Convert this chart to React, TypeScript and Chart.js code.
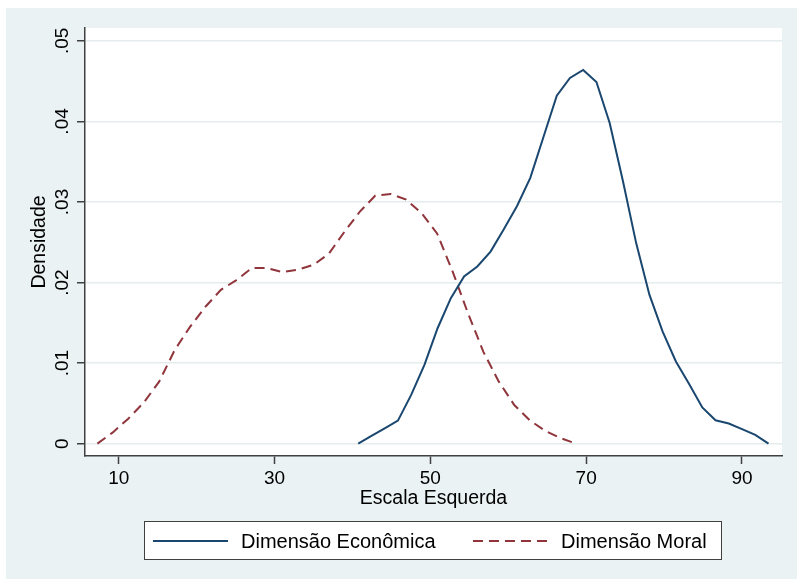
import React, { useEffect, useRef } from "react";
import { Chart, registerables } from "chart.js";

Chart.register(...registerables);

// ---- Data ----
const econX = [40.74, 42.44, 44.14, 45.84, 47.54, 49.24, 50.93, 52.63, 54.33, 56.03, 57.73, 59.43, 61.13, 62.83, 64.53, 66.23, 67.92, 69.62, 71.32, 73.02, 74.72, 76.42, 78.12, 79.82, 81.52, 83.22, 84.91, 86.61, 88.31, 90.01, 91.71, 93.41];
const econY = [0, 0.00096, 0.0019, 0.00286, 0.00605, 0.00978, 0.01433, 0.01806, 0.02075, 0.0220, 0.02385, 0.02663, 0.0295, 0.0330, 0.0381, 0.0432, 0.0454, 0.0464, 0.0449, 0.0398, 0.0326, 0.0249, 0.0185, 0.0139, 0.0102, 0.0074, 0.0045, 0.0029, 0.0025, 0.0018, 0.0011, 0];

const moralX = [7.26, 9.24, 11.22, 13.21, 15.19, 17.17, 19.15, 21.13, 23.12, 25.10, 27.08, 29.06, 31.04, 33.03, 35.01, 36.99, 38.97, 40.95, 42.94, 44.92, 46.90, 48.88, 50.86, 52.85, 54.83, 56.81, 58.79, 60.77, 62.76, 64.74, 66.72, 68.70];
const moralY = [0, 0.0014, 0.0031, 0.0051, 0.0077, 0.0116, 0.0145, 0.0170, 0.0191, 0.0203, 0.0218, 0.0218, 0.0213, 0.0216, 0.0222, 0.0236, 0.0263, 0.0288, 0.0308, 0.0310, 0.0303, 0.0286, 0.0261, 0.0214, 0.0162, 0.0114, 0.0077, 0.0048, 0.0029, 0.0016, 0.0007, 0];

const xTicks = [10, 30, 50, 70, 90];
const yTicks = [0, 0.01, 0.02, 0.03, 0.04, 0.05];
const yTickLabels = ["0", ".01", ".02", ".03", ".04", ".05"];
const seriesLabels = ["Dimensão Econômica", "Dimensão Moral"];
const xTitle = "Escala Esquerda";
const yTitle = "Densidade";

// ---- Styles ----
const FONT = '"Liberation Sans", Arial, Helvetica, sans-serif';
const BLUE = "#1a476f";
const RED = "#90353b";
const BG = "#eaf2f3";
const AXIS = "#404040";
const GRID = "#e4eced";

const bgPlugin = {
  id: "stataBg",
  beforeDraw(chart: any) {
    const { ctx, chartArea: a, width, height } = chart;
    ctx.save();
    ctx.fillStyle = "#ffffff";
    ctx.fillRect(0, 0, width, height);
    ctx.fillStyle = BG;
    ctx.fillRect(6, 8, width - 6, height - 8);
    ctx.fillStyle = "#ffffff";
    ctx.fillRect(a.left, a.top, a.right - a.left, a.bottom - a.top);
    ctx.restore();
  },
};

const legendPlugin = {
  id: "stataLegend",
  afterDraw(chart: any) {
    const { ctx } = chart;
    const ds = chart.data.datasets;
    ctx.save();
    const bx = 144.5, by = 521.5, bw = 577, bh = 38;
    ctx.fillStyle = "#ffffff";
    ctx.fillRect(bx, by, bw, bh);
    ctx.strokeStyle = AXIS;
    ctx.lineWidth = 1;
    ctx.strokeRect(bx, by, bw, bh);
    const cy = 541;
    const items = [
      { x0: 153, x1: 228, tx: 241 },
      { x0: 473, x1: 548, tx: 561 },
    ];
    items.forEach((it, i) => {
      const d = ds[i];
      ctx.beginPath();
      ctx.strokeStyle = d.borderColor;
      ctx.lineWidth = 2;
      ctx.setLineDash(d.borderDash || []);
      ctx.moveTo(it.x0, cy);
      ctx.lineTo(it.x1, cy);
      ctx.stroke();
      ctx.setLineDash([]);
      ctx.fillStyle = "#000000";
      ctx.font = `20px ${FONT}`;
      ctx.textBaseline = "middle";
      ctx.textAlign = "left";
      ctx.fillText(d.label, it.tx, cy + 1);
    });
    ctx.restore();
  },
};

export default function App() {
  const ref = useRef<HTMLCanvasElement | null>(null);

  useEffect(() => {
    if (!ref.current) return;
    const chart = new Chart(ref.current, {
      type: "scatter",
      data: {
        datasets: [
          {
            label: seriesLabels[0],
            data: econX.map((x, i) => ({ x, y: econY[i] })),
            showLine: true,
            borderColor: BLUE,
            backgroundColor: BLUE,
            borderWidth: 2,
            pointRadius: 0,
            tension: 0,
          },
          {
            label: seriesLabels[1],
            data: moralX.map((x, i) => ({ x, y: moralY[i] })),
            showLine: true,
            borderColor: RED,
            backgroundColor: RED,
            borderWidth: 2,
            borderDash: [10, 6],
            pointRadius: 0,
            tension: 0,
          },
        ],
      },
      options: {
        animation: false,
        responsive: false,
        maintainAspectRatio: false,
        layout: { padding: { left: 0, top: 28, right: 15, bottom: 63 } },
        plugins: {
          legend: { display: false },
          tooltip: { enabled: false },
        },
        scales: {
          x: {
            type: "linear",
            min: 5.67,
            max: 95.14,
            afterBuildTicks: (s: any) => {
              s.ticks = xTicks.map((v) => ({ value: v }));
            },
            afterFit: (s: any) => {
              s.height = 60;
            },
            grid: {
              drawOnChartArea: false,
              drawTicks: true,
              tickLength: 8,
              tickColor: AXIS,
              tickWidth: 1.5,
            },
            border: { display: true, color: AXIS, width: 1.5 },
            ticks: {
              color: "#000",
              font: { family: FONT, size: 19 },
              padding: 3,
              maxRotation: 0,
              autoSkip: false,
              callback: (v: any) => String(v),
            },
            title: {
              display: true,
              text: xTitle,
              color: "#000",
              font: { family: FONT, size: 19.5 },
              padding: { top: 0, bottom: 5.6 },
            },
          },
          y: {
            type: "linear",
            min: -0.00153,
            max: 0.0516,
            afterBuildTicks: (s: any) => {
              s.ticks = yTicks.map((v) => ({ value: v }));
            },
            afterFit: (s: any) => {
              s.width = 85;
            },
            grid: {
              color: GRID,
              lineWidth: 1.5,
              drawTicks: true,
              tickLength: 8,
              tickColor: AXIS,
              tickWidth: 1.5,
            },
            border: { display: true, color: AXIS, width: 1.5 },
            ticks: {
              color: "#000",
              font: { family: FONT, size: 19 },
              padding: 1.5,
              minRotation: 90,
              maxRotation: 90,
              crossAlign: "center",
              autoSkip: false,
              callback: (_v: any, i: number) => yTickLabels[i],
            },
            title: {
              display: true,
              text: yTitle,
              color: "#000",
              font: { family: FONT, size: 19.5 },
              padding: { top: 27.5, bottom: 0 },
            },
          },
        },
      } as any,
      plugins: [bgPlugin, legendPlugin],
    });
    return () => chart.destroy();
  }, []);

  return (
    <div style={{ position: "absolute", left: 0, top: 0, width: 797, height: 579 }}>
      <canvas ref={ref} width={797} height={579} style={{ width: 797, height: 579, display: "block" }} />
    </div>
  );
}
